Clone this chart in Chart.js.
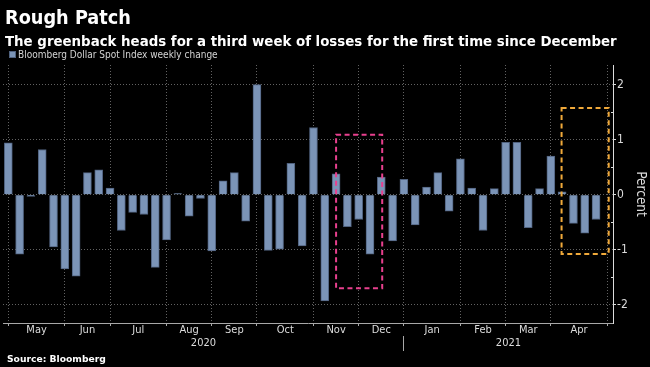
<!DOCTYPE html>
<html>
<head>
<meta charset="utf-8">
<script src="https://cdn.jsdelivr.net/npm/chart.js@4.4.1/dist/chart.umd.min.js"></script>
<style>
  html, body { margin: 0; padding: 0; background: #000; }
  #wrap { position: relative; width: 650px; height: 367px; overflow: hidden; background: #000; }
  #chart { position: absolute; left: 0; top: 0; }
  .txt { position: absolute; white-space: nowrap; line-height: 1; color: #fff;
         font-family: 'DejaVu Sans Condensed', 'DejaVu Sans', sans-serif; }
  #title { left: 5px; top: 7.5px; font-size: 19.7px; font-weight: bold; }
  #subtitle { left: 5px; top: 33.7px; font-size: 14.85px; font-weight: bold; }
  #legendText { left: 18px; top: 49.8px; font-size: 10px; color: #d4d4d4; }
  #legendBox { position: absolute; left: 9px; top: 51px; width: 5px; height: 5px; border: 1px solid; }
  #source { left: 7px; top: 353.7px; font-size: 9.2px; font-weight: bold; font-family: 'DejaVu Sans', sans-serif; }
</style>
</head>
<body>
<div id="wrap">
  <canvas id="chart" width="650" height="367"></canvas>
  <div class="txt" id="title">Rough Patch</div>
  <div class="txt" id="subtitle">The greenback heads for a third week of losses for the first time since December</div>
  <div id="legendBox"></div>
  <div class="txt" id="legendText"></div>
  <div class="txt" id="source">Source: Bloomberg</div>
</div>
<script>
// weekly change of the Bloomberg Dollar Spot Index, % (May 2020 - Apr 2021)
const weeklyChange = [
  0.94, -1.08, -0.03, 0.82, -0.95,        // May
  -1.35, -1.48, 0.40, 0.45,               // Jun
  0.12, -0.65, -0.32, -0.36, -1.32,       // Jul
  -0.82, 0.02, -0.39, -0.07,              // Aug
  -1.02, 0.25, 0.40, -0.48,               // Sep
  2.00, -1.01, -0.99, 0.57, -0.93,        // Oct
  1.22, -1.93, 0.38, -0.58,               // Nov
  -0.45, -1.08, 0.32, -0.84,              // Dec
  0.28, -0.55, 0.14, 0.40, -0.30,         // Jan
  0.65, 0.12, -0.65, 0.11,                // Feb
  0.95, 0.95, -0.60, 0.11,                // Mar
  0.70, 0.05, -0.52, -0.70, -0.45         // Apr
];
const seriesLabel = 'Bloomberg Dollar Spot Index weekly change';

const monthNames = ['May', 'Jun', 'Jul', 'Aug', 'Sep', 'Oct', 'Nov', 'Dec', 'Jan', 'Feb', 'Mar', 'Apr'];
const monthStarts = [0, 5, 9, 14, 18, 22, 27, 31, 35, 40, 44, 48, 53]; // week index of each month start
const yearNames = ['2020', '2021'];
const yearStarts = [35];                  // week index where 2021 begins
const yTicks = [-2, -1, 0, 1, 2];
const yMinorTicks = [-1.5, -0.5, 0.5, 1.5];

// dashed highlight boxes (week index / percent)
const pinkBox = {from: 29, to: 33.08, top: 1.09, bottom: -1.70, color: '#e8408e'};
const orangeBox = {from: 48.95, to: 53.12, top: 1.575, bottom: -1.075, color: '#f0a93a'};

const X_MIN = -0.47, X_MAX = 53.5;
const Y_MIN = -2.33, Y_MAX = 2.355;

const BAR_FILL = '#7b94b7';
const BAR_EDGE = '#50627f';
const GRID = '#626262';
const AXIS_X = '#a8a8a8';
const AXIS_Y = '#dcdcdc';
const LABEL = '#dcdcdc';

Chart.defaults.font.family = "'DejaVu Sans Condensed', 'DejaVu Sans', sans-serif";
Chart.defaults.color = LABEL;

const monthMids = monthNames.map((m, i) => (monthStarts[i] + monthStarts[i + 1]) / 2);
const yearBounds = [X_MIN, ...yearStarts, X_MAX];
const yearMids = yearNames.map((y, i) => (yearBounds[i] + yearBounds[i + 1]) / 2);

const isStart = (c) => c.tick && monthStarts.includes(c.tick.value);

const highlightBoxes = {
  id: 'highlightBoxes',
  afterDatasetsDraw(chart) {
    const {ctx, scales: {x, y}} = chart;
    ctx.save();
    ctx.lineWidth = 2;
    ctx.setLineDash([5, 3.5]);
    [pinkBox, orangeBox].forEach((b) => {
      const l = x.getPixelForValue(b.from);
      const r = x.getPixelForValue(b.to);
      const t = y.getPixelForValue(b.top);
      const btm = y.getPixelForValue(b.bottom);
      ctx.strokeStyle = b.color;
      ctx.strokeRect(l, t, r - l, btm - t);
    });
    ctx.restore();
  }
};

const chart = new Chart(document.getElementById('chart'), {
  type: 'bar',
  data: {
    datasets: [{
      label: seriesLabel,
      data: weeklyChange.map((v, i) => ({x: i, y: v})),
      backgroundColor: BAR_FILL,
      borderColor: BAR_EDGE,
      borderWidth: 1,
      barThickness: 8,
      xAxisID: 'x',
      yAxisID: 'y',
    }]
  },
  options: {
    responsive: false,
    animation: false,
    layout: {padding: {left: 3, right: 0, top: 65, bottom: 11}},
    plugins: {
      legend: {display: false},
      tooltip: {enabled: false},
    },
    scales: {
      x: {
        type: 'linear',
        position: 'bottom',
        min: X_MIN,
        max: X_MAX,
        offset: false,
        afterBuildTicks: (s) => { s.ticks = [...monthStarts, ...monthMids].sort((a, b) => a - b).map((v) => ({value: v})); },
        afterFit: (s) => { s.height = 13; },
        grid: {
          offset: false,
          color: (c) => isStart(c) ? GRID : 'transparent',
          tickColor: (c) => isStart(c) ? AXIS_X : 'transparent',
          tickLength: 3,
        },
        border: {display: false, dash: [1, 2]},
        ticks: {
          autoSkip: false,
          maxRotation: 0,
          padding: -2,
          font: {size: 11},
          callback: (v) => {
            const i = monthMids.indexOf(v);
            return i >= 0 ? monthNames[i] : '';
          }
        }
      },
      // solid axis line along the bottom of the plot
      xLine: {
        type: 'linear',
        position: {y: Y_MIN},
        min: X_MIN,
        max: X_MAX,
        offset: false,
        grid: {display: false},
        ticks: {display: false},
        border: {display: true, color: AXIS_X}
      },
      xYear: {
        type: 'linear',
        position: 'bottom',
        min: X_MIN,
        max: X_MAX,
        offset: false,
        afterBuildTicks: (s) => { s.ticks = [...yearMids, ...yearStarts].sort((a, b) => a - b).map((v) => ({value: v})); },
        afterFit: (s) => { s.height = 20; },
        grid: {
          offset: false,
          drawOnChartArea: false,
          color: (c) => c.tick && yearStarts.includes(c.tick.value) ? AXIS_X : 'transparent',
          tickLength: 15,
        },
        border: {display: false},
        ticks: {
          autoSkip: false,
          maxRotation: 0,
          padding: -14,
          font: {size: 11},
          callback: (v) => {
            const i = yearMids.indexOf(v);
            return i >= 0 ? yearNames[i] : '';
          }
        }
      },
      y: {
        type: 'linear',
        position: 'right',
        min: Y_MIN,
        max: Y_MAX,
        afterBuildTicks: (s) => { s.ticks = yTicks.map((v) => ({value: v})); },
        afterFit: (s) => { s.width = 37; },
        grid: {color: GRID, tickColor: AXIS_Y, tickLength: 3},
        border: {display: false, dash: [1, 2]},
        ticks: {padding: 1, font: {size: 12}, callback: (v) => String(v)},
        title: {display: true, text: 'Percent', font: {size: 13.5}, padding: {top: 1.5, bottom: 0}, color: LABEL}
      },
      // minor inward ticks and the solid right axis line
      yMinor: {
        type: 'linear',
        position: {x: X_MAX},
        min: Y_MIN,
        max: Y_MAX,
        afterBuildTicks: (s) => { s.ticks = yMinorTicks.map((v) => ({value: v})); },
        grid: {drawOnChartArea: false, tickColor: AXIS_Y, tickLength: 2},
        border: {display: true, color: AXIS_Y},
        ticks: {display: false}
      }
    }
  },
  plugins: [highlightBoxes]
});

// legend drawn in HTML from the dataset
const ds = chart.data.datasets[0];
document.getElementById('legendText').textContent = ds.label;
const lb = document.getElementById('legendBox');
lb.style.background = ds.backgroundColor;
lb.style.borderColor = ds.borderColor;
</script>
</body>
</html>
